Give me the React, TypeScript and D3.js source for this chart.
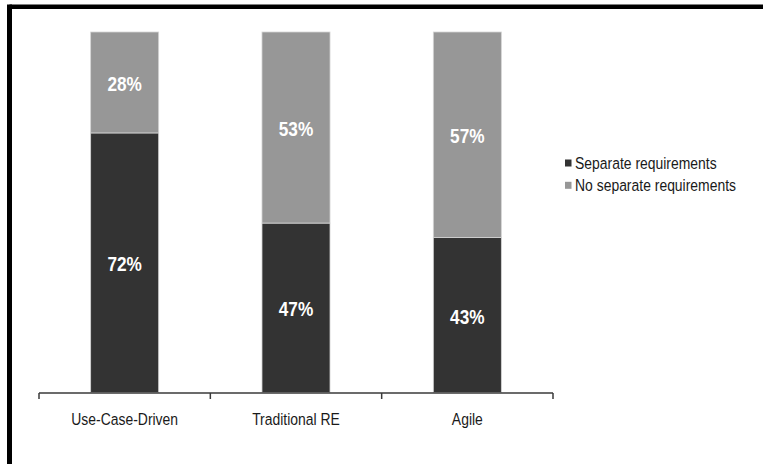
import React from "react";
import * as d3 from "d3";

const categories = ["Use-Case-Driven", "Traditional RE", "Agile"];
const separateValues = [72, 47, 43];
const noSeparateValues = [28, 53, 57];
const seriesNames = ["Separate requirements", "No separate requirements"];
const seriesColors = ["#333333", "#979797"];

const W = 763;
const H = 464;
const FONT = "'Liberation Sans', Arial, sans-serif";
const SX = 0.82;

function NText(props: {
  x: number;
  y: number;
  anchor?: string;
  fill: string;
  size: number;
  bold?: boolean;
  baseline?: string;
  children: React.ReactNode;
}) {
  return (
    <text
      transform={`translate(${props.x},${props.y}) scale(${SX},1)`}
      textAnchor={props.anchor || "start"}
      dominantBaseline={props.baseline}
      fill={props.fill}
      fontFamily={FONT}
      fontWeight={props.bold ? "bold" : "normal"}
      fontSize={props.size}
    >
      {props.children}
    </text>
  );
}

export default function App() {
  const x = d3.scaleBand<string>().domain(categories).range([39, 553]).padding(0);
  const y = d3.scaleLinear().domain([0, 100]).range([392.5, 32]);
  const bw = x.bandwidth() * 0.397;
  const stack = categories.map((c, i) => ({
    cat: c,
    segs: [
      { v: separateValues[i], y0: 0, y1: separateValues[i], color: seriesColors[0] },
      { v: noSeparateValues[i], y0: separateValues[i], y1: separateValues[i] + noSeparateValues[i], color: seriesColors[1] },
    ],
  }));
  const boundaries = [...categories.map((c) => x(c) as number), 553];
  const axisY = y(0) + 0.5;
  return (
    <svg width={W} height={H} style={{ position: "absolute", left: 0, top: 0, background: "#fff" }}>
      <rect x={0} y={0} width={W} height={H} fill="#fff" />
      {/* frame */}
      <line x1={9.5} y1={6.75} x2={W} y2={6.75} stroke="#000" strokeWidth={4.5} />
      <line x1={9.5} y1={4.5} x2={9.5} y2={H} stroke="#000" strokeWidth={5} />
      {stack.map((s) => {
        const cx = (x(s.cat) as number) + x.bandwidth() / 2;
        return (
          <g key={s.cat}>
            {s.segs.map((sg, j) => (
              <g key={j}>
                <rect
                  x={cx - bw / 2}
                  y={y(sg.y1)}
                  width={bw}
                  height={y(sg.y0) - y(sg.y1)}
                  fill={sg.color}
                  stroke="#d4d4d4"
                  strokeWidth={0.8}
                />
                <NText
                  x={cx}
                  y={(y(sg.y0) + y(sg.y1)) / 2 + 1.5}
                  anchor="middle"
                  baseline="central"
                  fill="#fff"
                  size={21}
                  bold
                >
                  {sg.v}%
                </NText>
              </g>
            ))}
          </g>
        );
      })}
      {/* axis */}
      <line x1={39} y1={axisY} x2={553} y2={axisY} stroke="#3a3a3a" strokeWidth={1.5} />
      {boundaries.map((b, i) => (
        <line key={i} x1={b} y1={axisY} x2={b} y2={axisY + 6} stroke="#3a3a3a" strokeWidth={1.5} />
      ))}
      {categories.map((c) => (
        <NText key={c} x={(x(c) as number) + x.bandwidth() / 2} y={425} anchor="middle" fill="#1a1a1a" size={17}>
          {c}
        </NText>
      ))}
      {/* legend */}
      {seriesNames.map((n, i) => (
        <g key={n}>
          <rect x={565} y={159.5 + i * 22.3} width={6.5} height={7} fill={seriesColors[i]} />
          <NText x={575} y={169 + i * 22.3} fill="#1a1a1a" size={17}>
            {n}
          </NText>
        </g>
      ))}
    </svg>
  );
}
